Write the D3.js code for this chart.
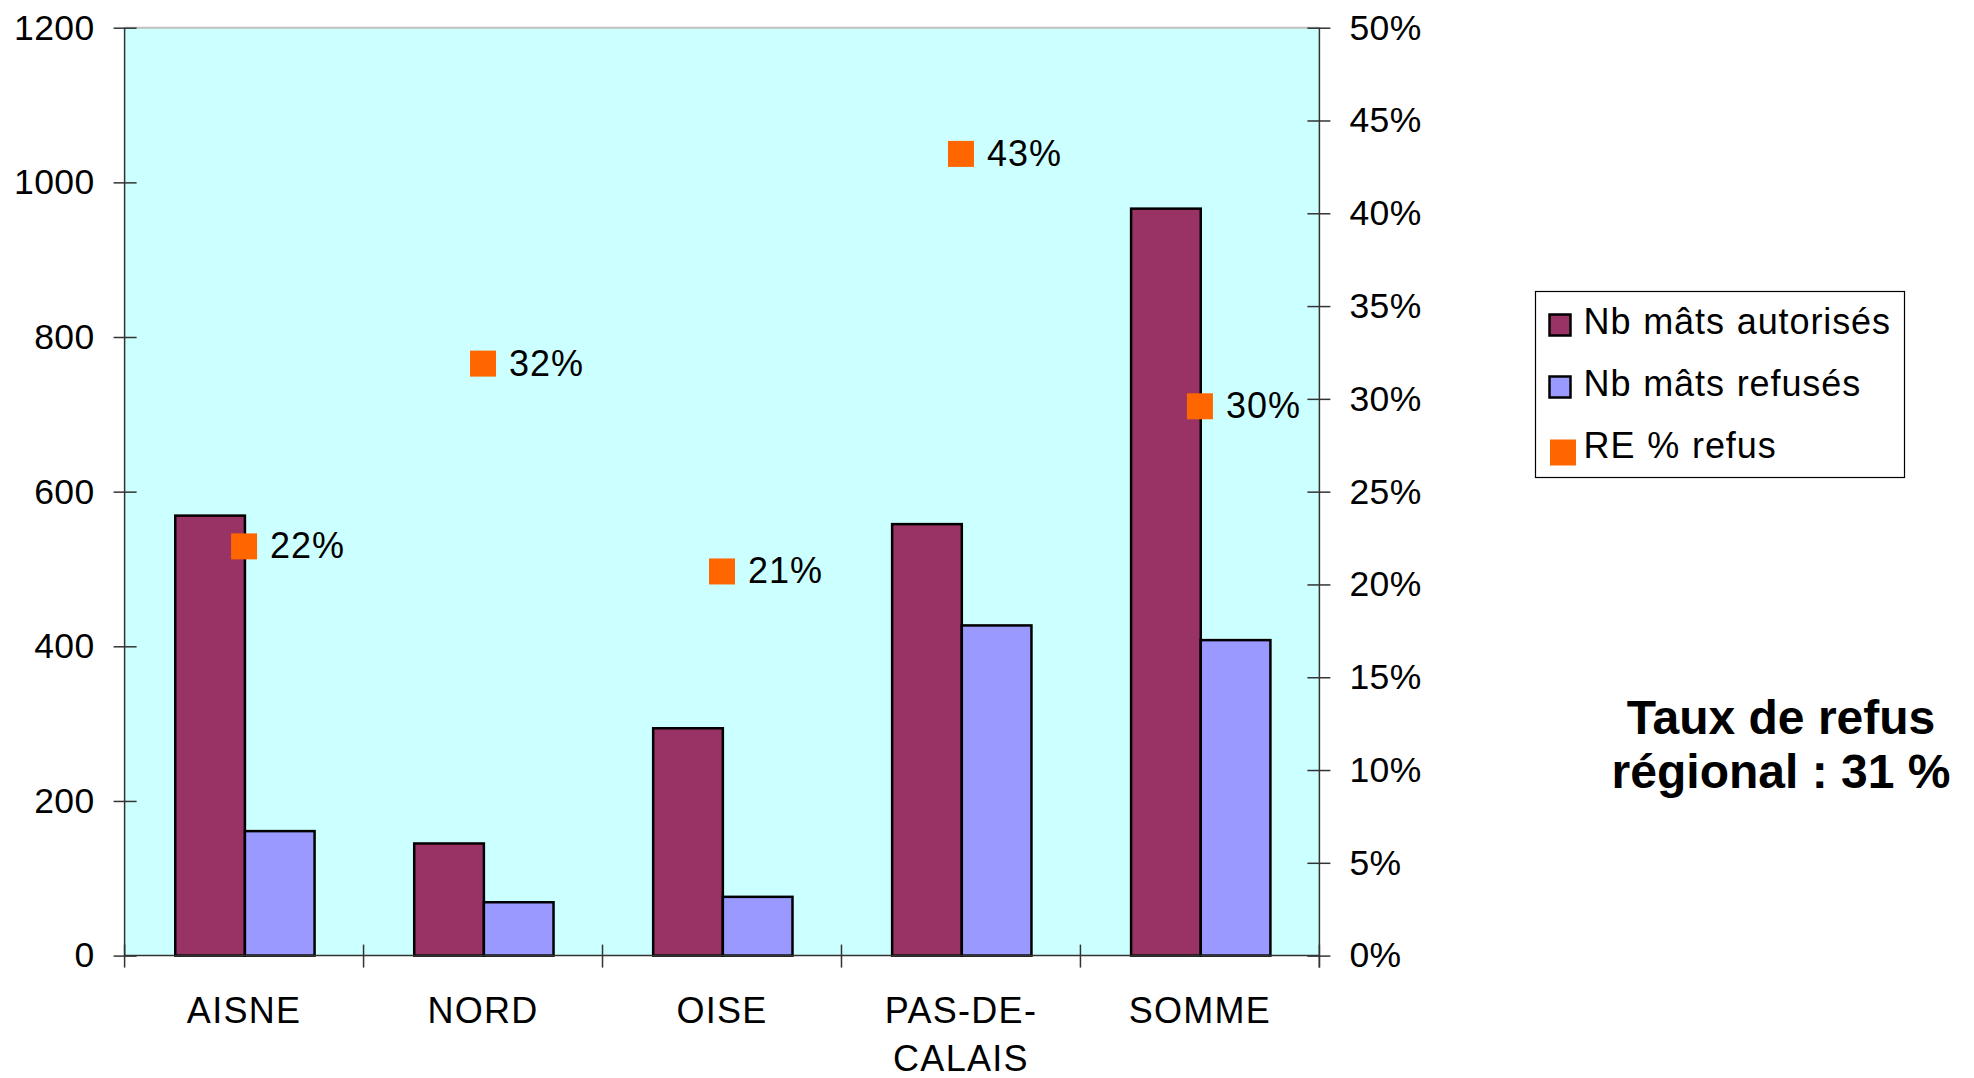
<!DOCTYPE html>
<html>
<head>
<meta charset="utf-8">
<title>Mâts autorisés / refusés</title>
<script src="https://cdn.jsdelivr.net/npm/d3@7"></script>
<style>
  body { margin: 0; background: #fff; }
  svg { display: block; font-family: "Liberation Sans", Arial, sans-serif; }
  .axis path, .axis line { stroke: #333; stroke-width: 1.5px; }
  .axis text { font-size: 35.5px; fill: #000; letter-spacing: 0.4px; }
  .axis text.cat { font-size: 36px; letter-spacing: 1.3px; }
</style>
</head>
<body>
<svg id="chart" width="1974" height="1078"></svg>
<script>
// data
var departements = ["AISNE", "NORD", "OISE", "PAS-DE-CALAIS", "SOMME"];
var catLines = [["AISNE"], ["NORD"], ["OISE"], ["PAS-DE-", "CALAIS"], ["SOMME"]];
var autorises = [569, 145, 294, 558, 966];
var refuses = [161, 69, 76, 427, 408];
var tauxRefus = [0.2205, 0.319, 0.207, 0.432, 0.296];
var tauxLabels = ["22%", "32%", "21%", "43%", "30%"];
var seriesNames = ["Nb mâts autorisés", "Nb mâts refusés", "RE % refus"];
var seriesColors = ["#993366", "#9999ff", "#ff6600"];
var leftTicks = [0, 200, 400, 600, 800, 1000, 1200];
var rightTicks = [0, 0.05, 0.1, 0.15, 0.2, 0.25, 0.3, 0.35, 0.4, 0.45, 0.5];

var svg = d3.select("#chart");
// plot frame (window.top is reserved, hence the names)
var pLeft = 124.6, pRight = 1319.4, pTop = 27.7, pBottom = 955.6;

var x = d3.scaleBand().domain(departements).range([pLeft, pRight]);
var bw = x.bandwidth();
var x1 = d3.scaleBand().domain([0, 1]).range([bw * 0.212, bw * 0.795]);
var y = d3.scaleLinear().domain([0, 1200]).range([pBottom, pTop]);
var y2 = d3.scaleLinear().domain([0, 0.5]).range([pBottom, pTop]);

// plot background
svg.append("rect")
  .attr("x", pLeft).attr("y", pTop)
  .attr("width", pRight - pLeft).attr("height", pBottom - pTop)
  .attr("fill", "#ccffff");
svg.append("line")
  .attr("x1", pLeft).attr("x2", pRight).attr("y1", pTop).attr("y2", pTop)
  .attr("stroke", "#c0c0c0").attr("stroke-width", 2);

// bars
var groups = svg.append("g").selectAll("g")
  .data(departements)
  .join("g")
  .attr("transform", function(d) { return "translate(" + x(d) + ",0)"; });

groups.selectAll("rect")
  .data(function(d, i) { return [autorises[i], refuses[i]]; })
  .join("rect")
  .attr("x", function(d, j) { return x1(j); })
  .attr("y", function(d) { return y(d); })
  .attr("width", x1.bandwidth())
  .attr("height", function(d) { return pBottom - y(d); })
  .attr("fill", function(d, j) { return seriesColors[j]; })
  .attr("stroke", "#000")
  .attr("stroke-width", 2.5);

// axes
var gl = svg.append("g").attr("class", "axis")
  .attr("transform", "translate(" + pLeft + ",0)")
  .call(d3.axisLeft(y).tickValues(leftTicks).tickFormat(d3.format("d")).tickSize(11).tickPadding(19));
gl.selectAll(".tick line").attr("x1", 12);
gl.select(".domain").attr("d", "M0," + pTop + "V" + pBottom);

var gr = svg.append("g").attr("class", "axis")
  .attr("transform", "translate(" + pRight + ",0)")
  .call(d3.axisRight(y2).tickValues(rightTicks).tickFormat(d3.format(".0%")).tickSize(11).tickPadding(19));
gr.selectAll(".tick line").attr("x1", -12);
gr.select(".domain").attr("d", "M0," + pTop + "V" + (pBottom + 12));

var gb = svg.append("g").attr("class", "axis")
  .attr("transform", "translate(0," + pBottom + ")");
gb.append("line").attr("x1", pLeft).attr("x2", pRight).attr("y1", 0).attr("y2", 0);
gb.selectAll("line.tk")
  .data(d3.range(departements.length + 1))
  .join("line").attr("class", "tk")
  .attr("x1", function(i) { return pLeft + i * bw; })
  .attr("x2", function(i) { return pLeft + i * bw; })
  .attr("y1", -11).attr("y2", 12);

gb.selectAll("text")
  .data(departements)
  .join("text")
  .attr("class", "cat")
  .attr("text-anchor", "middle")
  .attr("transform", function(d) { return "translate(" + (x(d) + bw / 2) + ",67)"; })
  .selectAll("tspan")
  .data(function(d, i) { return catLines[i]; })
  .join("tspan")
  .attr("x", 0)
  .attr("y", function(d, k) { return k * 48; })
  .text(function(d) { return d; });

// percentage markers
var mk = svg.append("g");
mk.selectAll("rect")
  .data(tauxRefus)
  .join("rect")
  .attr("x", function(d, i) { return x(departements[i]) + bw / 2 - 13; })
  .attr("y", function(d) { return y2(d) - 13; })
  .attr("width", 26).attr("height", 26)
  .attr("fill", seriesColors[2]);
mk.selectAll("text")
  .data(tauxRefus)
  .join("text")
  .attr("x", function(d, i) { return x(departements[i]) + bw / 2 + 26; })
  .attr("y", function(d) { return y2(d) + 12; })
  .attr("font-size", 36)
  .attr("letter-spacing", 1)
  .text(function(d, i) { return tauxLabels[i]; });

// legend
var lg = svg.append("g").attr("transform", "translate(1535.5,291.5)");
lg.append("rect")
  .attr("width", 369).attr("height", 186)
  .attr("fill", "#fff").attr("stroke", "#000").attr("stroke-width", 1.2);
var items = lg.selectAll("g.it")
  .data(seriesNames)
  .join("g").attr("class", "it")
  .attr("transform", function(d, i) { return "translate(0," + (i * 62) + ")"; });
items.append("rect")
  .attr("x", function(d, i) { return i < 2 ? 14 : 14.5; })
  .attr("y", function(d, i) { return i < 2 ? 23 : 148 - 2 * 62; })
  .attr("width", function(d, i) { return i < 2 ? 21 : 26; })
  .attr("height", function(d, i) { return i < 2 ? 21 : 26; })
  .attr("fill", function(d, i) { return seriesColors[i]; })
  .attr("stroke", function(d, i) { return i < 2 ? "#000" : "none"; })
  .attr("stroke-width", 2.5);
items.append("text")
  .attr("x", 48)
  .attr("y", 42)
  .attr("font-size", 36)
  .attr("letter-spacing", 0.9)
  .attr("word-spacing", 1)
  .text(function(d) { return d; });

// regional rate
var note = svg.append("text")
  .attr("text-anchor", "middle")
  .attr("font-size", 48)
  .attr("font-weight", "bold");
note.append("tspan").attr("x", 1781).attr("y", 734).text("Taux de refus");
note.append("tspan").attr("x", 1781).attr("y", 788).text("régional : 31 %");
</script>
</body>
</html>
